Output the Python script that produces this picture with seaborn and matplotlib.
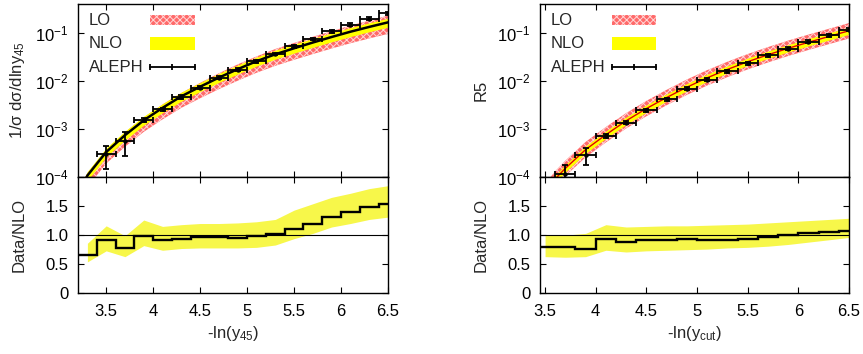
import numpy as np
import matplotlib
matplotlib.use("Agg")
import matplotlib.pyplot as plt
import seaborn as sns
import pandas as pd
from matplotlib.patches import Rectangle
from matplotlib.ticker import FixedLocator, FixedFormatter, NullLocator

# ---------------- y45 distribution (left) ----------------
y45_grid = [3.2, 3.3, 3.5, 3.7, 3.9, 4.1, 4.3, 4.5, 4.7, 4.9, 5.1, 5.3, 5.5, 5.7, 5.9, 6.1, 6.3, 6.5]
y45_nlo_log = [-4.35, -3.97, -3.48, -3.13, -2.82, -2.56, -2.32, -2.12, -1.93, -1.755,
               -1.59, -1.445, -1.32, -1.20, -1.085, -0.975, -0.875, -0.78]
y45_nlo_hi_log = [-4.265, -3.885, -3.395, -3.045, -2.735, -2.475, -2.235, -2.035, -1.845, -1.67,
                  -1.505, -1.36, -1.235, -1.115, -1.0, -0.89, -0.79, -0.695]
y45_nlo_lo_log = [-4.45, -4.07, -3.58, -3.23, -2.92, -2.66, -2.42, -2.22, -2.03, -1.855,
                  -1.69, -1.545, -1.42, -1.30, -1.185, -1.075, -0.975, -0.88]
y45_lo_hi_log = [-4.30, -3.92, -3.43, -3.07, -2.76, -2.49, -2.25, -2.04, -1.84, -1.655,
                 -1.49, -1.335, -1.21, -1.08, -0.965, -0.845, -0.745, -0.64]
y45_lo_lo_log = [-4.59, -4.21, -3.72, -3.37, -3.06, -2.80, -2.56, -2.36, -2.17, -1.995,
                 -1.83, -1.685, -1.56, -1.44, -1.325, -1.215, -1.115, -1.02]

y45_data_x = [3.5, 3.7, 3.9, 4.1, 4.3, 4.5, 4.7, 4.9, 5.1, 5.3, 5.5, 5.7, 5.9, 6.1, 6.3, 6.5]
y45_data = [2.98e-4, 5.7e-4, 1.53e-3, 2.55e-3, 4.65e-3, 7.26e-3, 1.17e-2, 1.71e-2,
            2.55e-2, 3.67e-2, 5.28e-2, 7.51e-2, 0.108, 0.149, 0.198, 0.255]
y45_data_err = [1.5e-4, 2.9e-4, 1.5e-4, 2.0e-4, 3.5e-4, 5.5e-4, 8.5e-4, 1.2e-3,
                1.7e-3, 2.4e-3, 3.4e-3, 4.6e-3, 6.5e-3, 9.0e-3, 1.2e-2, 1.5e-2]

y45_ratio_edges = [3.2, 3.4, 3.6, 3.8, 4.0, 4.2, 4.4, 4.6, 4.8, 5.0, 5.2, 5.4, 5.6, 5.8,
                   6.0, 6.2, 6.4, 6.6]
y45_ratio = [0.66, 0.91, 0.78, 0.99, 0.91, 0.94, 0.96, 0.97, 0.95, 0.98, 1.02, 1.11,
             1.20, 1.32, 1.39, 1.49, 1.53]
y45_band_x = [3.3, 3.5, 3.7, 3.9, 4.1, 4.3, 4.5, 4.7, 4.9, 5.1, 5.3, 5.5, 5.7, 5.9, 6.1, 6.3, 6.5]
y45_band_lo = [0.54, 0.73, 0.63, 0.82, 0.74, 0.77, 0.78, 0.78, 0.78, 0.79, 0.83, 0.94,
               1.03, 1.14, 1.20, 1.27, 1.31]
y45_band_hi = [0.86, 1.16, 0.99, 1.26, 1.15, 1.18, 1.20, 1.20, 1.21, 1.23, 1.27, 1.43,
               1.54, 1.65, 1.72, 1.80, 1.85]

# ---------------- R5 jet rate (right) ----------------
r5_grid = [3.5, 3.6, 3.7, 3.9, 4.1, 4.3, 4.5, 4.7, 4.9, 5.1, 5.3, 5.5, 5.7, 5.9, 6.1, 6.3, 6.5]
r5_nlo_log = [-4.30, -4.04, -3.82, -3.43, -3.12, -2.83, -2.575, -2.345, -2.13, -1.935,
              -1.76, -1.60, -1.455, -1.32, -1.195, -1.075, -0.955]
r5_nlo_hi_log = [-4.225, -3.965, -3.745, -3.355, -3.045, -2.755, -2.50, -2.27, -2.055, -1.86,
                 -1.685, -1.525, -1.38, -1.245, -1.12, -1.0, -0.88]
r5_nlo_lo_log = [-4.375, -4.115, -3.895, -3.505, -3.195, -2.905, -2.65, -2.42, -2.205, -2.01,
                 -1.835, -1.675, -1.53, -1.395, -1.27, -1.15, -1.03]
r5_lo_hi_log = [-4.14, -3.88, -3.66, -3.27, -2.96, -2.67, -2.415, -2.185, -1.97, -1.775,
                -1.60, -1.44, -1.295, -1.16, -1.035, -0.915, -0.795]
r5_lo_lo_log = [-4.46, -4.20, -3.98, -3.59, -3.28, -2.99, -2.735, -2.505, -2.29, -2.095,
                -1.92, -1.76, -1.615, -1.48, -1.355, -1.235, -1.115]

r5_data_x = [3.7, 3.9, 4.1, 4.3, 4.5, 4.7, 4.9, 5.1, 5.3, 5.5, 5.7, 5.9, 6.1, 6.3, 6.5]
r5_data = [1.17e-4, 2.88e-4, 7.1e-4, 1.35e-3, 2.46e-3, 4.16e-3, 6.92e-3, 1.06e-2,
           1.58e-2, 2.35e-2, 3.39e-2, 4.73e-2, 6.6e-2, 8.9e-2, 0.117]
r5_data_err = [6.5e-5, 1.1e-4, 7e-5, 1.1e-4, 2.0e-4, 3.3e-4, 5.5e-4, 8.5e-4,
               1.2e-3, 1.8e-3, 2.6e-3, 3.6e-3, 5.0e-3, 6.8e-3, 9.0e-3]

r5_ratio_edges = [3.4, 3.6, 3.8, 4.0, 4.2, 4.4, 4.6, 4.8, 5.0, 5.2, 5.4, 5.6, 5.8, 6.0,
                  6.2, 6.4, 6.6]
r5_ratio = [0.79, 0.79, 0.76, 0.94, 0.89, 0.92, 0.92, 0.93, 0.92, 0.915, 0.935, 0.97,
            1.00, 1.03, 1.055, 1.07]
r5_band_x = [3.5, 3.7, 3.9, 4.1, 4.3, 4.5, 4.7, 4.9, 5.1, 5.3, 5.5, 5.7, 5.9, 6.1, 6.3, 6.5]
r5_band_lo = [0.63, 0.62, 0.63, 0.74, 0.71, 0.73, 0.74, 0.75, 0.76, 0.78, 0.79, 0.81,
              0.84, 0.88, 0.92, 0.96]
r5_band_hi = [1.00, 1.00, 1.03, 1.18, 1.14, 1.15, 1.16, 1.16, 1.17, 1.18, 1.19, 1.21,
              1.23, 1.25, 1.27, 1.29]

x_ticks = [3.5, 4, 4.5, 5, 5.5, 6, 6.5]
x_tick_labels = ["3.5", "4", "4.5", "5", "5.5", "6", "6.5"]
ratio_ticks = [0, 0.5, 1.0, 1.5, 2.0]
ratio_tick_labels = ["0", "0.5", "1.0", "1.5", ""]
log_ticks = [1e-4, 1e-3, 1e-2, 1e-1]
log_tick_labels = [r"10$^{-4}$", r"10$^{-3}$", r"10$^{-2}$", r"10$^{-1}$"]
legend_labels = ["LO", "NLO", "ALEPH"]

# ---------------- style ----------------
sns.set_theme(style="ticks")
plt.rcParams["font.family"] = ["Liberation Sans", "DejaVu Sans"]
plt.rcParams["mathtext.fontset"] = "custom"
plt.rcParams["mathtext.rm"] = "Liberation Sans"
plt.rcParams["mathtext.it"] = "Liberation Sans:italic"
plt.rcParams["mathtext.default"] = "regular"
plt.rcParams["font.size"] = 12
plt.rcParams["hatch.linewidth"] = 0.7

LO_FACE = "#ff6a6a"
LO_HATCH = "#ffd6d6"
NLO_FACE = "#ffff00"
RATIO_FACE = "#f7f74a"
FS = 12

fig = plt.figure(figsize=(8.63, 3.54), dpi=100)


def style_axes(ax):
    ax.tick_params(direction="in", which="both", top=True, right=True,
                   length=4, width=0.8, labelsize=FS, colors="black")
    ax.tick_params(axis="x", pad=8)
    ax.tick_params(axis="y", pad=7)
    ax.yaxis.set_minor_locator(NullLocator())
    ax.xaxis.set_minor_locator(NullLocator())
    for s in ax.spines.values():
        s.set_color("black")
        s.set_linewidth(1.0)
        s.set_visible(True)
    ax.set_facecolor("white")


def draw_key(ax):
    # key entries: label on the left, sample on the right
    tr = ax.transAxes
    rows_y = [0.907, 0.772, 0.633]
    x_text, x0, x1 = 0.035, 0.232, 0.377
    for lab, yy in zip(legend_labels, rows_y):
        ax.text(x_text, yy, lab, transform=tr, ha="left", va="center", fontsize=FS)
    ax.add_patch(Rectangle((x0, rows_y[0] - 0.031), x1 - x0, 0.062, transform=tr,
                           facecolor=LO_FACE, edgecolor=LO_HATCH, hatch="xxxxx",
                           linewidth=0, zorder=5))
    ax.add_patch(Rectangle((x0, rows_y[1] - 0.036), x1 - x0, 0.072, transform=tr,
                           facecolor=NLO_FACE, linewidth=0, zorder=5))
    ax.plot([x0, x1], [rows_y[2]] * 2, transform=tr, color="black", lw=1.3, zorder=5)
    ax.plot([x0, (x0 + x1) / 2, x1], [rows_y[2]] * 3, transform=tr, ls="none",
            marker="|", ms=5, mew=1.3, color="black", zorder=5)


def draw_panel(left, width, grid, nlo_c, nlo_hi, nlo_lo, lo_hi, lo_lo, central_color,
               central_lw, dx, dy, dyerr, redges, rvals, bx, blo, bhi, xmin, ylabel, xlabel):
    top = fig.add_axes([left, 0.5, width, 0.4887])
    bot = fig.add_axes([left, 0.1715, width, 0.3285], sharex=top)

    g = np.array(grid)
    top.fill_between(g, 10.0 ** np.array(lo_lo), 10.0 ** np.array(lo_hi),
                     facecolor=LO_FACE, edgecolor=LO_HATCH, hatch="xxxxx", linewidth=0)
    top.fill_between(g, 10.0 ** np.array(nlo_lo), 10.0 ** np.array(nlo_hi),
                     facecolor=NLO_FACE, linewidth=0)
    curve = pd.DataFrame({"x": g, "y": 10.0 ** np.array(nlo_c)})
    sns.lineplot(data=curve, x="x", y="y", ax=top, color=central_color,
                 linewidth=central_lw, sort=False)
    top.errorbar(dx, dy, xerr=0.1, yerr=dyerr, fmt="o", ms=2.2, color="black",
                 ecolor="black", elinewidth=1.3, capsize=2, capthick=1.3)
    top.set_yscale("log")
    top.set_ylim(1e-4, 0.4)
    top.set_xlim(xmin, 6.5)
    top.yaxis.set_major_locator(FixedLocator(log_ticks))
    top.yaxis.set_major_formatter(FixedFormatter(log_tick_labels))
    top.set_ylabel(ylabel, fontsize=FS)
    top.set_xlabel("")
    style_axes(top)
    top.tick_params(labelbottom=False)
    top.yaxis.set_label_coords(-0.165, 0.5)
    draw_key(top)

    bot.fill_between(bx, blo, bhi, facecolor=RATIO_FACE, linewidth=0)
    bot.axhline(1.0, color="black", linewidth=0.8)
    bot.stairs(rvals, redges, baseline=None, color="black", linewidth=1.7)
    bot.set_ylim(0, 2)
    bot.set_xlim(xmin, 6.5)
    bot.yaxis.set_major_locator(FixedLocator(ratio_ticks))
    bot.yaxis.set_major_formatter(FixedFormatter(ratio_tick_labels))
    bot.xaxis.set_major_locator(FixedLocator(x_ticks))
    bot.xaxis.set_major_formatter(FixedFormatter(x_tick_labels))
    bot.set_ylabel("Data/NLO", fontsize=FS)
    bot.set_xlabel(xlabel, fontsize=FS)
    style_axes(bot)
    bot.yaxis.set_label_coords(-0.165, 0.5)
    bot.xaxis.labelpad = 3
    return top, bot


draw_panel(78 / 863, 310 / 863, y45_grid, y45_nlo_log, y45_nlo_hi_log, y45_nlo_lo_log,
           y45_lo_hi_log, y45_lo_lo_log, "black", 1.8,
           y45_data_x, y45_data, y45_data_err, y45_ratio_edges, y45_ratio,
           y45_band_x, y45_band_lo, y45_band_hi, 3.2,
           r"1/σ dσ/dlny$_{45}$", r"-ln(y$_{45}$)")

draw_panel(540 / 863, 309 / 863, r5_grid, r5_nlo_log, r5_nlo_hi_log, r5_nlo_lo_log,
           r5_lo_hi_log, r5_lo_lo_log, "#e00000", 1.0,
           r5_data_x, r5_data, r5_data_err, r5_ratio_edges, r5_ratio,
           r5_band_x, r5_band_lo, r5_band_hi, 3.45,
           "R5", r"-ln(y$_{cut}$)")

fig.savefig("out.png", dpi=100)
